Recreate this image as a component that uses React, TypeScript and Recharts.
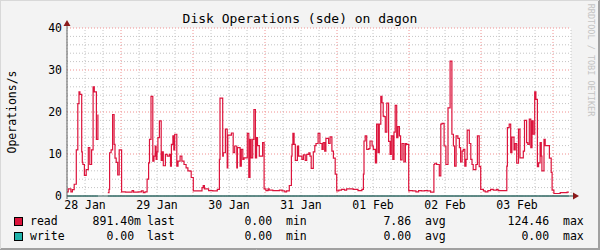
import React from "react";
import { LineChart, Line, XAxis, YAxis, ReferenceLine, CartesianGrid } from "recharts";

// hours since 28 Jan 06:00, step start times
const hours = [
  0, 0.4, 1.3, 1.8, 2.4, 3.1, 3.6, 4.0, 4.3, 4.9, 5.1, 5.3, 5.8, 6.4, 7.1, 7.6, 8.2, 8.7, 9.1, 9.8,
  10.3, 10.8, 13.6, 14.0, 14.2, 14.7, 15.2, 15.7, 16.0, 16.4, 16.9, 17.4, 18.2, 19.5, 21.7, 22.2, 23.7, 24.8, 25.4, 26.0,
  26.7, 27.2, 27.5, 28.0, 28.6, 29.0, 29.4, 29.7, 30.0, 30.3, 30.8, 31.4, 31.8, 32.1, 32.8, 33.4, 34.1, 34.5, 34.8, 35.3,
  35.6, 35.9, 36.6, 37.0, 37.7, 38.3, 39.0, 39.7, 40.3, 41.0, 41.4, 42.1, 45.0, 45.4, 45.8, 47.2, 48.6, 50.1, 50.8, 51.0,
  51.9, 52.1, 52.8, 53.4, 53.6, 54.8, 55.4, 55.9, 56.6, 56.8, 57.7, 58.1, 58.6, 59.0, 60.1, 60.6, 61.0, 61.4, 61.9, 62.3,
  62.8, 63.2, 63.5, 64.1, 65.2, 65.7, 66.3, 67.0, 67.4, 68.6, 70.8, 71.7, 72.6, 73.2, 74.1, 74.8, 75.0, 75.3, 75.7, 76.1,
  76.8, 77.2, 78.3, 78.8, 79.4, 79.9, 80.6, 81.0, 81.4, 82.1, 82.6, 83.0, 83.7, 84.3, 85.0, 85.4, 85.9, 86.3, 87.2, 87.7,
  88.3, 88.8, 89.4, 89.9, 90.6, 91.5, 92.5, 93.2, 95.4, 97.0, 98.3, 98.8, 99.0, 99.4, 99.9, 100.6, 101.0, 101.7, 102.1, 102.8,
  103.2, 103.7, 104.1, 104.6, 105.0, 105.4, 105.7, 106.1, 106.6, 107.2, 107.7, 108.1, 108.6, 109.0, 109.4, 109.9, 110.3, 110.8, 111.2, 111.7,
  112.3, 112.8, 113.2, 113.9, 114.1, 115.2, 116.3, 117.2, 118.1, 119.2, 120.1, 121.2, 122.3, 122.6, 123.2, 124.1, 124.6, 125.0, 125.7, 126.3,
  127.0, 127.7, 128.3, 128.8, 129.2, 129.7, 130.3, 130.8, 131.2, 131.7, 132.1, 132.6, 133.0, 133.4, 134.1, 134.6, 135.0, 135.4, 136.3, 136.8,
  137.4, 137.9, 138.8, 139.4, 140.3, 141.2, 142.1, 143.2, 143.7, 146.6, 146.8, 147.4, 147.9, 148.3, 149.0, 149.4, 149.9, 150.5, 151.0, 152.1,
  152.5, 153.2, 153.6, 154.1, 154.6, 155.0, 155.4, 155.9, 156.3, 156.8, 157.2, 157.7, 158.1, 158.3, 159.0, 159.4, 160.8, 161.4, 161.7, 162.3,
  164.4, 166.7, 167.3,
];

const readOps: (number | null)[] = [
  1.0, 1.7, 1.0, 1.5, 2.8, 11, 22, 24.8, 24.2, 10.5, 8, 7.5, 4.9, 6.3, 11.5, 7.5, 11, 26, 24.8, 13.5,
  19.4, null, 0.8, 1.6, 10.3, 11, 19.4, 12.3, 9, 8, 5, 11, 1.0, 0.9, 1.3, 0.9, 1.0, 1.2, 0.8, 1.0,
  4, 7.9, 13.5, 23.7, 8.3, 9.5, 11.9, 8.7, 10.5, 13.9, 17.9, 8.5, 10.5, 7.2, 9.9, 9.5, 9.9, 7.1, 12.3, 14.3,
  11, 14.7, 7.1, 8.3, 9.5, 8.3, 7.5, 6.7, 6.0, 5.9, 4.4, 1.2, 2.0, 2.5, 1.7, 1.3, 1.2, 1.6, 8.7, 23.3,
  9.5, 10.3, 15.9, 6.7, 14.5, 15.0, 10.3, 11.9, 6.7, 11.5, 7.1, 11.1, 8.7, 9.1, 14.9, 4.4, 13.5, 9.1, 13.5, 20.6,
  9.1, 13.9, 12.0, 9.5, 12.7, 1.7, 1.3, 1.7, 1.4, 1.3, 1.4, 1.2, 1.0, 1.2, 2.5, 9.5, 12.3, 14.9, 12.3, 8.5,
  11.9, 9.5, 8.7, 9.8, 8.5, 9.9, 10.3, 9.5, 6.6, 10.5, 12.0, 12.5, 14.9, 12.5, 11.1, 12.7, 10.7, 13.7, 12.5, 14.1,
  10.7, 9.0, 5.2, 1.2, 1.4, 1.6, 1.4, 1.7, 1.6, 1.3, 1.6, 5.2, 13.1, 14.3, 11.1, 11.3, 13.1, 11.9, 11.1, 7.9,
  17.1, 10.3, 17.1, 23.7, 22.2, 19.0, 18.9, 15.2, 22.1, 13.0, 9.9, 14.3, 8.7, 15.2, 21.6, 13.9, 16.5, 14.3, 8.6, 12.5,
  8.1, 12.5, 12.3, 1.2, 1.3, 1.2, 1.0, 1.3, 1.2, 1.3, 1.2, 0.9, 7.5, 7.8, 7.5, 4.8, 17.1, 17.3, 11.9, 7.5,
  21.0, 32.1, 14.7, 11.9, 7.1, 14.3, 13.7, 11.5, 8.1, 10.7, 11.1, 7.1, 8.7, 15.7, 12.5, 8.7, 7.5, 6.3, 7.5, 14.3,
  7.0, 1.6, 1.2, 1.0, 1.3, 1.6, 1.4, 1.6, 1.3, 7.1, 16.3, 17.1, 10.3, 14.0, 11.0, 12.5, 7.8, 15.9, 9.1, 10.7,
  18.0, 12.7, 12.3, 18.3, 11.5, 17.9, 14.7, 24.8, 23.0, 7.0, 7.9, 12.7, 9.5, 6.0, 13.5, 12.0, 9.0, 5.6, 1.4, 0.6,
  0.8, 0.9, 0.9,
];

// write ops were 0 for the whole week (unknown where read is unknown)
const writeOps = readOps.map((v) => (v === null ? null : 0));

const dayLabels = ["28 Jan", "29 Jan", "30 Jan", "31 Jan", "01 Feb", "02 Feb", "03 Feb"];
const dayNoons = [6, 30, 54, 78, 102, 126, 150];
const midnights = [18, 42, 66, 90, 114, 138, 162];
const yTicks = [0, 10, 20, 30, 40];

const seriesNames = ["read", "write"];
const seriesColors = ["#dc143c", "#20b2aa"];
const lastVals = ["891.40m", "0.00 "];
const minVals = ["0.00 ", "0.00 "];
const avgVals = ["7.86 ", "0.00 "];
const maxVals = ["124.46 ", "0.00 "];

const data = hours.map((t, i) => ({ t, read: readOps[i], write: writeOps[i] }));

const minorX: number[] = [];
for (let h = 0; h <= 168; h += 6) if (!midnights.includes(h)) minorX.push(h);
const minorY: number[] = [];
for (let v = 2; v < 40; v += 2) if (v % 10 !== 0) minorY.push(v);

const mono = "'DejaVu Sans Mono', monospace";
const FS = 11.5;

export default function App() {
  const txt = (left: number, top: number, s: string, extra: React.CSSProperties = {}) => (
    <span style={{ position: "absolute", left, top, whiteSpace: "pre", lineHeight: "14px", ...extra }}>{s}</span>
  );
  const rtxt = (right: number, top: number, s: string) => (
    <span style={{ position: "absolute", right: 600 - right, top, whiteSpace: "pre", lineHeight: "14px" }}>{s}</span>
  );

  return (
    <div
      style={{
        position: "absolute",
        top: 0,
        left: 0,
        width: 600,
        height: 250,
        background: "#f3f3f3",
        fontFamily: mono,
        fontSize: FS,
        color: "#000",
        overflow: "hidden",
      }}
    >
      <LineChart width={600} height={250} data={data} margin={{ top: 28, right: 29, left: 0, bottom: 0 }}>
        <CartesianGrid fill="#ffffff" horizontal={false} vertical={false} />
        {minorX.map((h) => (
          <ReferenceLine key={"mx" + h} x={h} stroke="#c4c4c4" strokeDasharray="1 2" />
        ))}
        {minorY.map((v) => (
          <ReferenceLine key={"my" + v} y={v} stroke="#c4c4c4" strokeDasharray="1 2" />
        ))}
        {midnights.map((h) => (
          <ReferenceLine key={"Mx" + h} x={h} stroke="#f09090" strokeDasharray="1 2" />
        ))}
        {yTicks.slice(1).map((v) => (
          <ReferenceLine key={"My" + v} y={v} stroke="#f09090" strokeDasharray="1 2" />
        ))}
        <XAxis
          type="number"
          dataKey="t"
          domain={[0, 168]}
          ticks={dayNoons}
          interval={0}
          tickFormatter={(v: number) => dayLabels[dayNoons.indexOf(v)] ?? ""}
          height={54}
          tickSize={0}
          tickMargin={5}
          axisLine={{ stroke: "#2f5f5b" }}
          tick={{ fill: "#000", fontFamily: mono, fontSize: FS }}
        />
        <YAxis
          domain={[0, 40]}
          ticks={yTicks}
          interval={0}
          width={67}
          tickSize={0}
          tickMargin={5}
          axisLine={false}
          tick={{ fill: "#000", fontFamily: mono, fontSize: FS }}
        />
        <Line
          dataKey="read"
          type="stepAfter"
          stroke={seriesColors[0]}
          strokeWidth={1.2}
          dot={false}
          connectNulls={false}
          isAnimationActive={false}
        />
        <Line
          dataKey="write"
          type="stepAfter"
          stroke="#1f6b64"
          strokeWidth={1}
          dot={false}
          connectNulls={false}
          isAnimationActive={false}
        />
      </LineChart>

      <svg width={600} height={250} style={{ position: "absolute", top: 0, left: 0, pointerEvents: "none" }}>
        <line x1={67} y1={199} x2={67} y2={24} stroke="#606060" strokeWidth={1} />
        <polygon points="63.5,26 70.5,26 67,20" fill="#8b1a1a" />
        <line x1={571} y1={196} x2={574} y2={196} stroke="#2f5f5b" strokeWidth={1} />
        <polygon points="573,192.5 573,199.5 579,196" fill="#8b1a1a" />
        <rect x={0.5} y={0.5} width={598} height={248} fill="none" stroke="#d8d8d8" />
        <line x1={599.5} y1={0} x2={599.5} y2={250} stroke="#a0a0a0" />
        <line x1={598.5} y1={1} x2={598.5} y2={249} stroke="#a0a0a0" />
        <line x1={0} y1={249.5} x2={600} y2={249.5} stroke="#a0a0a0" />
        <line x1={1} y1={248.5} x2={600} y2={248.5} stroke="#a0a0a0" />
      </svg>

      <div style={{ position: "absolute", top: 11, left: 0, width: 600, textAlign: "center", fontSize: 13, lineHeight: "16px" }}>
        Disk Operations (sde) on dagon
      </div>
      <div
        style={{
          position: "absolute",
          left: 12,
          top: 112,
          transform: "translate(-50%, -50%) rotate(-90deg)",
          whiteSpace: "nowrap",
          lineHeight: "14px",
        }}
      >
        Operations/s
      </div>
      <div
        style={{
          position: "absolute",
          left: 591,
          top: 60,
          transform: "translate(-50%, -50%) rotate(90deg)",
          whiteSpace: "nowrap",
          fontSize: 8.5,
          color: "#c4c4c4",
          lineHeight: "10px",
        }}
      >
        RRDTOOL / TOBI OETIKER
      </div>

      {seriesNames.map((name, i) => {
        const top = 214 + i * 15;
        return (
          <React.Fragment key={name}>
            <span
              style={{
                position: "absolute",
                left: 14,
                top: top + 3,
                width: 7,
                height: 7,
                background: seriesColors[i],
                border: "1px solid #000",
              }}
            />
            {txt(30, top, name)}
            {rtxt(141, top, lastVals[i])}
            {txt(147, top, "last")}
            {rtxt(279, top, minVals[i])}
            {txt(286, top, "min")}
            {rtxt(418, top, avgVals[i])}
            {txt(425, top, "avg")}
            {rtxt(556, top, maxVals[i])}
            {txt(563, top, "max")}
          </React.Fragment>
        );
      })}
    </div>
  );
}
